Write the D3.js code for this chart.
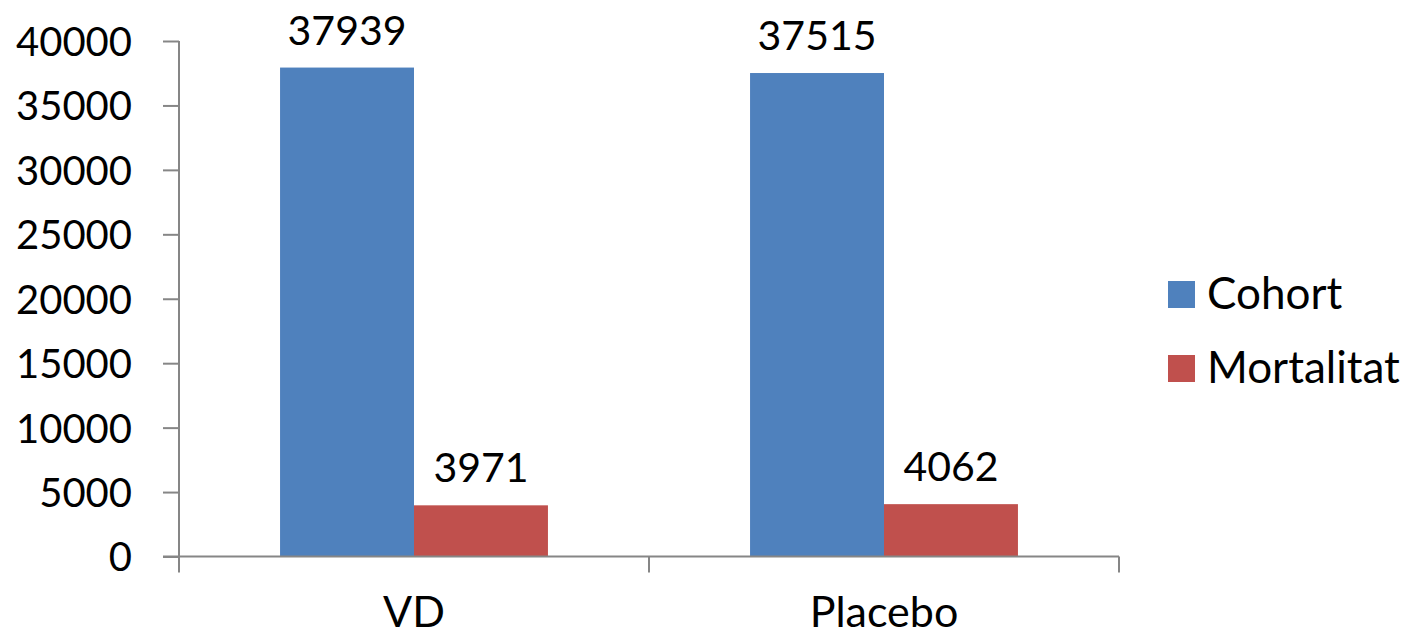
<!DOCTYPE html>
<html>
<head>
<meta charset="utf-8">
<script src="https://cdn.jsdelivr.net/npm/d3@7"></script>
<style>
  html, body { margin: 0; padding: 0; background: #fff; }
  svg { display: block; }
  text { font-family: Lato, "Open Sans", sans-serif; fill: #000; }
</style>
</head>
<body>
<svg id="chart" width="1411" height="638"></svg>
<script>
// Groups on the x axis and the two series drawn for each group
const categories = ["VD", "Placebo"];
const seriesNames = ["Cohort", "Mortalitat"];
const cohortValues = [37939, 37515];
const mortalitatValues = [3971, 4062];
const yTicks = [0, 5000, 10000, 15000, 20000, 25000, 30000, 35000, 40000];
const seriesColors = ["#4F81BD", "#C0504D"];

const svg = d3.select("#chart");
const plot = { left: 179, right: 1119, top: 41, bottom: 556.5 };

const x0 = d3.scaleBand()
  .domain(categories)
  .range([plot.left, plot.right])
  .paddingInner(0.43)
  .paddingOuter(0.215);

const x1 = d3.scaleBand()
  .domain(seriesNames)
  .range([0, x0.bandwidth()]);

const y = d3.scaleLinear()
  .domain([0, 40000])
  .range([plot.bottom, plot.top]);

const color = d3.scaleOrdinal().domain(seriesNames).range(seriesColors);

const rows = categories.map((c, i) => ({
  category: c,
  values: [
    { series: "Cohort", value: cohortValues[i] },
    { series: "Mortalitat", value: mortalitatValues[i] }
  ]
}));

// Bars
const groups = svg.append("g")
  .selectAll("g")
  .data(rows)
  .join("g")
  .attr("transform", d => `translate(${x0(d.category)},0)`);

groups.selectAll("rect")
  .data(d => d.values)
  .join("rect")
  .attr("x", d => x1(d.series))
  .attr("y", d => y(d.value))
  .attr("width", x1.bandwidth())
  .attr("height", d => y(0) - y(d.value))
  .attr("fill", d => color(d.series));

// Value labels above each bar
groups.selectAll("text.value")
  .data(d => d.values)
  .join("text")
  .attr("class", "value")
  .attr("x", d => x1(d.series) + x1.bandwidth() / 2)
  .attr("y", d => y(d.value) - 23)
  .attr("text-anchor", "middle")
  .attr("font-size", 41)
  .text(d => d.value);

// Y axis
const yAxis = svg.append("g")
  .attr("transform", `translate(${plot.left},0)`)
  .call(d3.axisLeft(y).tickValues(yTicks).tickSize(16).tickPadding(31).tickFormat(d3.format("d")));
yAxis.select(".domain").attr("stroke", "#868686").attr("stroke-width", 2).attr("d", `M0,${plot.top}V${plot.bottom}`);
yAxis.selectAll(".tick line").attr("stroke", "#868686").attr("stroke-width", 2);
yAxis.selectAll(".tick text")
  .attr("font-size", 40)
  .attr("font-family", "Lato, 'Open Sans', sans-serif")
  .attr("fill", "#000")
  .attr("dy", "0.36em");

// X axis with category boundary ticks
const xAxisG = svg.append("g");
xAxisG.append("line")
  .attr("x1", plot.left - 16).attr("x2", plot.right)
  .attr("y1", y(0)).attr("y2", y(0))
  .attr("stroke", "#868686").attr("stroke-width", 2);
const boundaries = [plot.left, ...categories.map(c => x0(c) + x0.bandwidth() + x0.step() * x0.paddingInner() / 2)];
boundaries[boundaries.length - 1] = plot.right;
xAxisG.selectAll("line.bound")
  .data(boundaries)
  .join("line")
  .attr("class", "bound")
  .attr("x1", d => d).attr("x2", d => d)
  .attr("y1", y(0)).attr("y2", y(0) + 16)
  .attr("stroke", "#868686").attr("stroke-width", 2);
xAxisG.selectAll("text")
  .data(categories)
  .join("text")
  .attr("x", d => x0(d) + x0.bandwidth() / 2)
  .attr("y", 627)
  .attr("text-anchor", "middle")
  .attr("font-size", 43)
  .text(d => d);

// Legend
const legend = svg.append("g")
  .selectAll("g")
  .data(seriesNames)
  .join("g")
  .attr("transform", (d, i) => `translate(1168,${281 + i * 74})`);
legend.append("rect")
  .attr("width", 27).attr("height", 27)
  .attr("fill", d => color(d));
legend.append("text")
  .attr("x", 39)
  .attr("y", 28)
  .attr("font-size", 44)
  .text(d => d);
</script>
</body>
</html>
